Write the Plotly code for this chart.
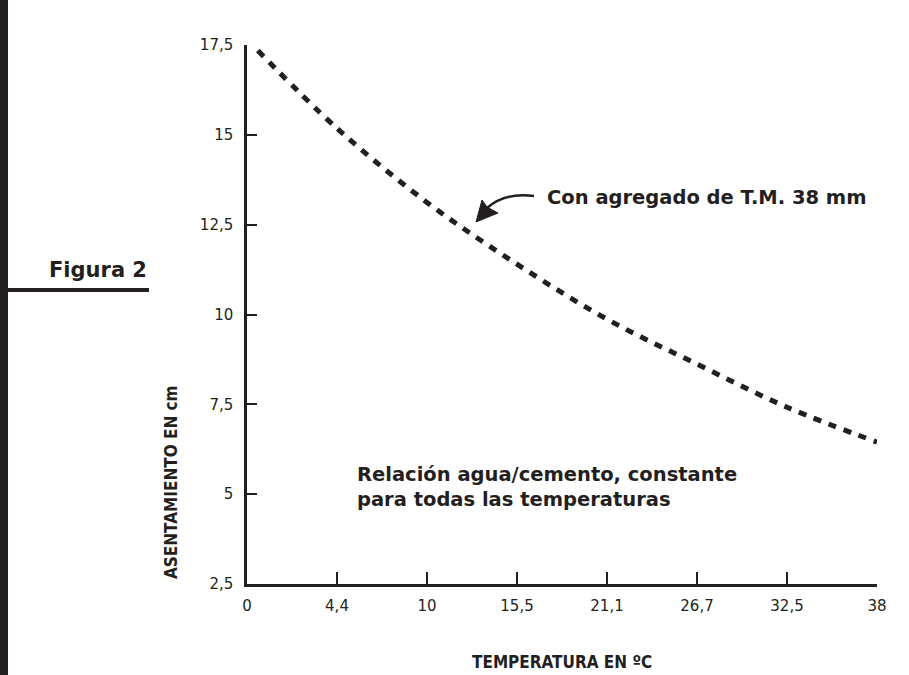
import plotly.graph_objects as go

# ---- data ----
tick_labels = ["0", "4,4", "10", "15,5", "21,1", "26,7", "32,5", "38"]
tick_pos = [0, 1, 2, 3, 4, 5, 6, 7]
x_pos = [0.12, 1, 2, 3, 4, 5, 6, 7]
slump_cm = [17.35, 15.18, 13.12, 11.4, 9.87, 8.62, 7.42, 6.45]
y_ticks = [2.5, 5, 7.5, 10, 12.5, 15, 17.5]
y_ticktext = ["2,5", "5", "7,5", "10", "12,5", "15", "17,5"]

INK = "#231f20"
W, H = 909, 675
PL, PR, PT, PB = 247, 877, 45, 584


def px(xp):
    return (xp - PL) / (PR - PL)


def py(yp):
    return (PB - yp) / (PB - PT)


fig = go.Figure()
fig.add_trace(go.Scatter(
    x=x_pos, y=slump_cm, mode="lines",
    line=dict(color=INK, width=5, dash="8px,8px", shape="spline", smoothing=1.0),
    cliponaxis=False, showlegend=False, hoverinfo="skip"))

narrow = "Liberation Sans Narrow, DejaVu Sans Condensed, Arial Narrow, sans-serif"
bold = "DejaVu Sans, sans-serif"

fig.update_layout(
    width=W, height=H,
    margin=dict(l=PL, r=W - PR, t=PT, b=H - PB),
    paper_bgcolor="white", plot_bgcolor="white",
    xaxis=dict(range=[0, 7], tickvals=tick_pos, ticktext=tick_labels,
               showline=True, linewidth=2.5, linecolor=INK,
               ticks="inside", ticklen=12, tickwidth=2, tickcolor=INK,
               showgrid=False, zeroline=False, ticklabelstandoff=6,
               tickfont=dict(family="DejaVu Sans, sans-serif", size=15, color=INK)),
    yaxis=dict(range=[2.5, 17.5], tickvals=y_ticks, ticktext=y_ticktext,
               showline=True, linewidth=2.5, linecolor=INK,
               ticks="inside", ticklen=10, tickwidth=2, tickcolor=INK,
               showgrid=False, zeroline=False, ticklabelstandoff=8,
               tickfont=dict(family="DejaVu Sans, sans-serif", size=15, color=INK)),
)

shapes = [
    # left vertical bar
    dict(type="rect", xref="paper", yref="paper", x0=px(0), x1=px(8), y0=py(H), y1=py(0),
         fillcolor=INK, line=dict(width=0)),
    # Figura underline
    dict(type="line", xref="paper", yref="paper", x0=px(8), x1=px(149), y0=py(290), y1=py(290),
         line=dict(color=INK, width=4)),
    # curved arrow
    dict(type="path", xref="paper", yref="paper",
         path=f"M {px(534)},{py(196)} Q {px(505)},{py(192)} {px(487)},{py(208)}",
         line=dict(color=INK, width=2.5)),
    dict(type="path", xref="paper", yref="paper",
         path=(f"M {px(476)},{py(222)} L {px(482)},{py(200)} L {px(487)},{py(207)} "
               f"L {px(498)},{py(213)} Z"),
         fillcolor=INK, line=dict(color=INK, width=1)),
]
fig.update_layout(shapes=shapes)

annotations = [
    dict(text="<b>Figura 2</b>", xref="paper", yref="paper", x=px(149), y=py(270),
         xanchor="right", yanchor="middle", showarrow=False,
         font=dict(family=bold, size=21, color=INK)),
    dict(text="<b>ASENTAMIENTO EN cm</b>", xref="paper", yref="paper", x=px(171), y=py(482),
         xanchor="center", yanchor="middle", textangle=-90, showarrow=False,
         font=dict(family=narrow, size=17, color=INK)),
    dict(text="<b>TEMPERATURA EN ºC</b>", xref="paper", yref="paper", x=px(562), y=py(662),
         xanchor="center", yanchor="middle", showarrow=False,
         font=dict(family=narrow, size=17, color=INK)),
    dict(text="<b>Con agregado de T.M. 38 mm</b>", xref="paper", yref="paper", x=px(545), y=py(197),
         xanchor="left", yanchor="middle", showarrow=False,
         font=dict(family=bold, size=19.5, color=INK)),
    dict(text="<b>Relación agua/cemento, constante<br>para todas las temperaturas</b>",
         xref="paper", yref="paper", x=px(355), y=py(487),
         xanchor="left", yanchor="middle", align="left", showarrow=False,
         font=dict(family=bold, size=19.5, color=INK)),
]
fig.update_layout(annotations=annotations)

fig.write_html("out.html", config={"displayModeBar": False},
               post_script="document.body.style.margin='0';document.body.style.overflow='hidden';")
